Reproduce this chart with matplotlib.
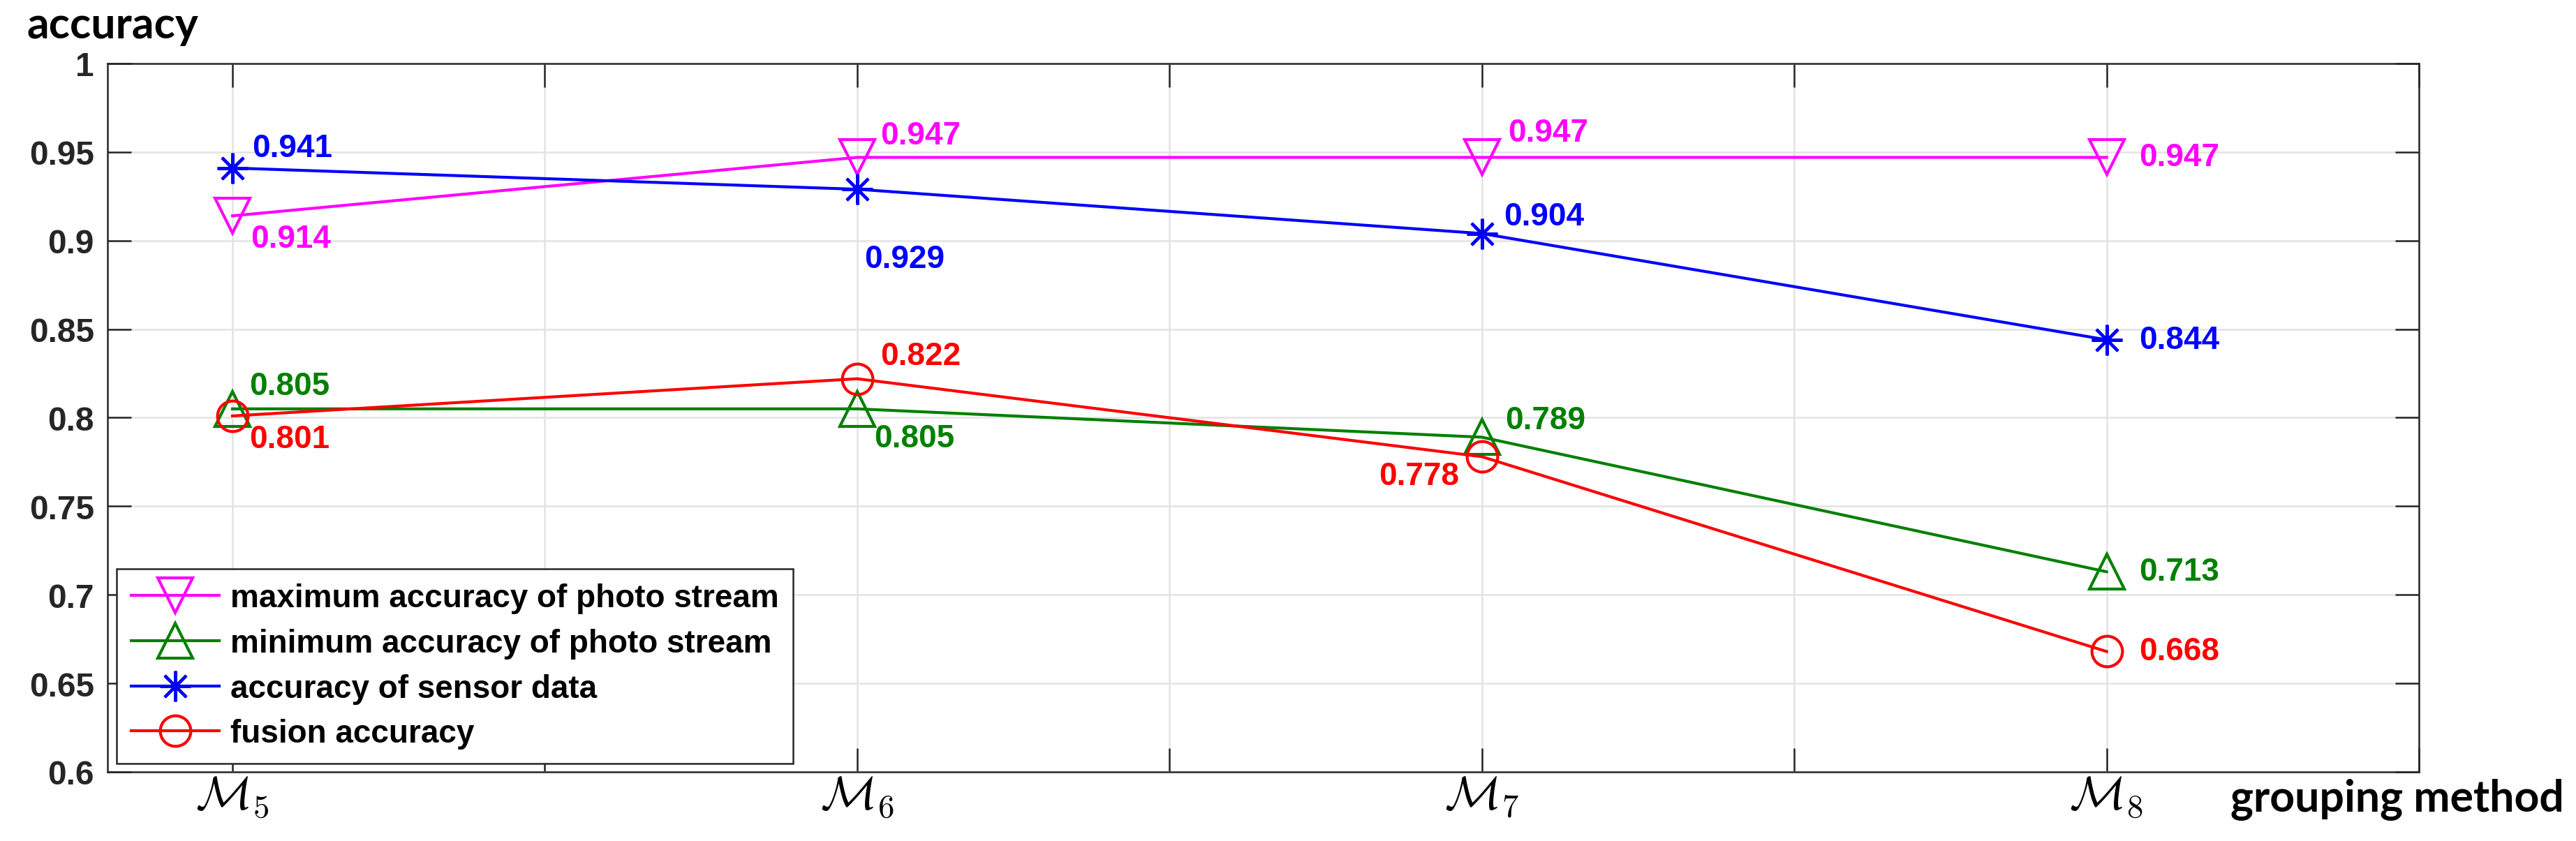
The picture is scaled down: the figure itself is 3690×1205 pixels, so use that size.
import matplotlib
matplotlib.use('Agg')
import matplotlib.pyplot as plt
from matplotlib.ticker import MultipleLocator

# grouping methods and accuracies
methods = [r'$\mathcal{M}_5$', r'$\mathcal{M}_6$', r'$\mathcal{M}_7$', r'$\mathcal{M}_8$']
max_photo = [0.914, 0.947, 0.947, 0.947]
min_photo = [0.805, 0.805, 0.789, 0.713]
sensor = [0.941, 0.929, 0.904, 0.844]
fusion = [0.801, 0.822, 0.778, 0.668]

series_labels = ['maximum accuracy of photo stream',
                 'minimum accuracy of photo stream',
                 'accuracy of sensor data',
                 'fusion accuracy']

W, H, DPI = 3690, 1206, 300
PX = 72 / DPI  # one pixel in points

plt.rcParams['mathtext.fontset'] = 'cm'
plt.rcParams['font.family'] = ['Liberation Sans', 'DejaVu Sans']

fig = plt.figure(figsize=(W / DPI, H / DPI), dpi=DPI)
left, right, top, bottom = 154, 3465, 92, 1107
ax = fig.add_axes([left / W, 1 - bottom / H, (right - left) / W, (bottom - top) / H])

xs = list(range(1, len(methods) + 1))

styles = [
    (max_photo, '#FF00FF', 'v', 12),
    (min_photo, '#008000', '^', 12),
    (sensor, '#0000FF', (8, 2, 0), 10.5),
    (fusion, '#FF0000', 'o', 10.5),
]

# label offsets in pixels (dx, dy, ha) for each series / point
offsets = [
    [(26, -33, 'left'), (33, 31, 'left'), (37, 35, 'left'), (47, 0, 'left')],
    [(24, 33, 'left'), (24, -42, 'left'), (33, 24, 'left'), (47, 0, 'left')],
    [(28, 29, 'left'), (10, -100, 'left'), (31, 25, 'left'), (47, 0, 'left')],
    [(24, -33, 'left'), (33, 33, 'left'), (-33, -28, 'right'), (47, 0, 'left')],
]

for (vals, color, marker, ms), label, offs in zip(styles, series_labels, offsets):
    ax.plot(xs, vals, color=color, marker=marker, markersize=ms,
            markerfacecolor='none', markeredgecolor=color,
            markeredgewidth=1.0, linewidth=1.0, label=label)
    for xi, v, (dx, dy, ha) in zip(xs, vals, offs):
        ax.annotate(f'{v:.3f}', (xi, v), xytext=(dx * PX, dy * PX),
                    textcoords='offset points', ha=ha, va='center',
                    color=color, fontsize=11, fontweight='bold')

ax.set_xlim(0.8, 4.5)
ax.set_ylim(0.6, 1.0)
ax.set_xticks(xs)
ax.set_xticklabels(methods, fontsize=16)
ax.xaxis.set_minor_locator(MultipleLocator(0.5))
ax.yaxis.set_major_locator(MultipleLocator(0.05))
ax.set_yticklabels([f'{t:g}' for t in ax.get_yticks()])

tick_len = 34 * PX
ax.tick_params(axis='both', which='both', direction='in', top=True, right=True,
               length=tick_len, width=0.6, color='#262626')
ax.tick_params(axis='y', labelsize=11.5, pad=19 * PX, labelcolor='#262626')
ax.tick_params(axis='x', pad=4 * PX)
for t in ax.get_yticklabels():
    t.set_fontweight('bold')

ax.grid(True, which='both', color='#e3e3e3', linewidth=0.6)
ax.set_axisbelow(True)
for sp in ax.spines.values():
    sp.set_color('#262626')
    sp.set_linewidth(0.6)

leg = ax.legend(loc='lower left', bbox_to_anchor=(0.004, 0.012), borderaxespad=0,
                prop={'weight': 'bold', 'size': 11},
                handlelength=2.75, handletextpad=0.35, labelspacing=0.45,
                borderpad=0.45, fancybox=False, framealpha=1,
                edgecolor='#262626')
leg.get_frame().set_linewidth(0.6)

fig.text(39 / W, 1 - 55 / H, 'accuracy', family='Lato', fontweight='bold',
         fontsize=15, va='baseline', ha='left')
fig.text(3195 / W, 1 - 1162 / H, 'grouping method', family='Lato',
         fontweight='bold', fontsize=15, va='baseline', ha='left')

fig.savefig('out.png', dpi=DPI)
